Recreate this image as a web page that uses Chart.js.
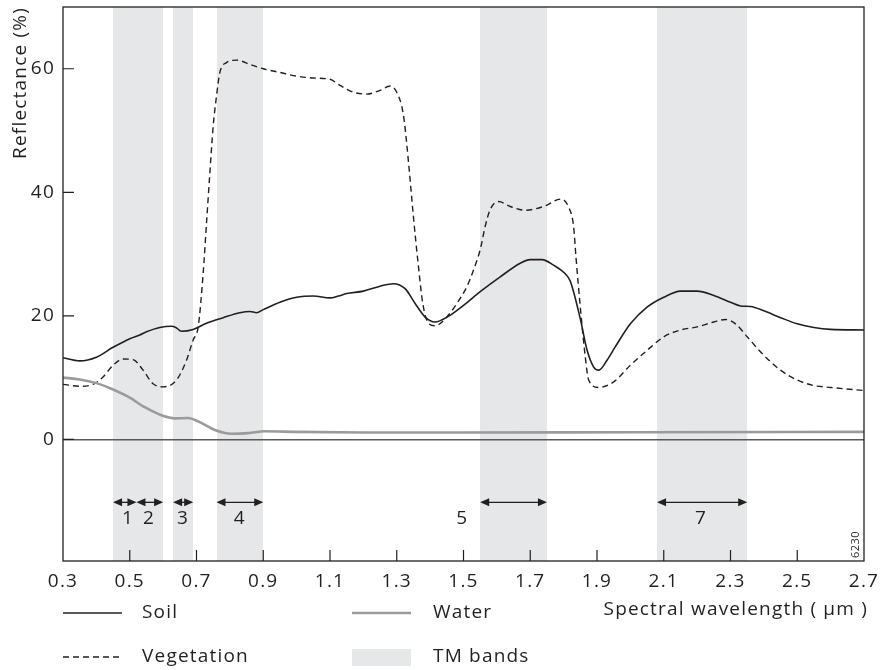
<!DOCTYPE html>
<html>
<head>
<meta charset="utf-8">
<script src="https://cdn.jsdelivr.net/npm/chart.js@4"></script>
<style>
  html, body { margin: 0; padding: 0; background: #ffffff; }
  #wrap { width: 880px; height: 670px; position: relative; }
</style>
</head>
<body>
<div id="wrap"><canvas id="c" width="880" height="670"></canvas></div>
<script>
// ---------- data ----------
const xTickValues = [0.3, 0.5, 0.7, 0.9, 1.1, 1.3, 1.5, 1.7, 1.9, 2.1, 2.3, 2.5, 2.7];
const xTickLabels = ['0.3', '0.5', '0.7', '0.9', '1.1', '1.3', '1.5', '1.7', '1.9', '2.1', '2.3', '2.5', '2.7'];
const yTickValues = [0, 20, 40, 60];
const yTickLabels = ['0', '20', '40', '60'];

const seriesNames = ['Soil', 'Vegetation', 'Water'];

const soilX = [0.30, 0.35, 0.40, 0.45, 0.50, 0.53, 0.55, 0.59, 0.625, 0.638, 0.655, 0.69, 0.73, 0.78, 0.83,
  0.86, 0.88, 0.90, 0.95, 1.00, 1.05, 1.10, 1.125, 1.15, 1.20, 1.25, 1.29, 1.325, 1.355, 1.385, 1.415,
  1.454, 1.50, 1.55, 1.61, 1.67, 1.70, 1.735, 1.77, 1.805, 1.82, 1.85, 1.87, 1.89, 1.905, 1.93, 1.955,
  2.00, 2.05, 2.10, 2.15, 2.20, 2.25, 2.30, 2.33, 2.36, 2.40, 2.45, 2.50, 2.55, 2.60, 2.70];
const soilY = [13.2, 12.7, 13.3, 14.9, 16.3, 16.9, 17.4, 18.1, 18.3, 18.1, 17.5, 17.8, 18.8, 19.7, 20.5,
  20.7, 20.5, 21.0, 22.2, 23.0, 23.2, 22.9, 23.2, 23.6, 24.0, 24.8, 25.2, 24.4, 22.0, 19.8, 19.0,
  19.9, 21.7, 23.9, 26.3, 28.5, 29.1, 29.1, 28.2, 26.8, 25.6, 19.5, 14.5, 11.7, 11.2, 12.8, 15.0,
  18.7, 21.4, 23.0, 24.0, 24.0, 23.3, 22.2, 21.6, 21.5, 20.8, 19.7, 18.7, 18.1, 17.8, 17.7];

const vegX = [0.30, 0.35, 0.39, 0.42, 0.45, 0.48, 0.51, 0.54, 0.57, 0.60, 0.64, 0.67, 0.69, 0.705,
  0.72, 0.73, 0.74, 0.75, 0.76, 0.77, 0.79, 0.82, 0.86, 0.90, 0.95, 1.00, 1.05, 1.10, 1.13, 1.17, 1.21,
  1.25, 1.28, 1.30, 1.32, 1.335, 1.35, 1.365, 1.378, 1.395, 1.415, 1.45, 1.48, 1.51, 1.53, 1.55, 1.565,
  1.58, 1.605, 1.64, 1.685, 1.745, 1.79, 1.815, 1.83, 1.837, 1.85, 1.865, 1.875, 1.905, 1.95, 2.00,
  2.05, 2.10, 2.15, 2.20, 2.25, 2.285, 2.315, 2.35, 2.40, 2.45, 2.50, 2.55, 2.60, 2.70];
const vegY = [8.9, 8.6, 8.9, 10.1, 12.0, 13.0, 12.9, 11.2, 9.0, 8.5, 9.6, 12.8, 16.1, 18.2,
  26.9, 35.0, 43.1, 50.7, 55.6, 59.4, 61.0, 61.4, 60.7, 60.0, 59.4, 58.8, 58.5, 58.3, 57.3, 56.2, 55.9,
  56.5, 57.2, 56.2, 52.5, 45.0, 36.0, 28.0, 22.0, 18.8, 18.4, 19.8, 22.0, 24.7, 27.4, 30.7, 34.5,
  37.2, 38.5, 37.7, 37.1, 37.8, 38.9, 37.6, 34.4, 29.5, 21.4, 13.3, 9.6, 8.4, 9.3, 12.0,
  14.4, 16.6, 17.7, 18.2, 19.0, 19.4, 18.7, 16.6, 13.6, 11.2, 9.6, 8.7, 8.4, 7.9];

const waterX = [0.30, 0.35, 0.40, 0.445, 0.495, 0.545, 0.595, 0.635, 0.675, 0.705, 0.755, 0.805, 0.855,
  0.905, 1.00, 1.20, 1.50, 2.00, 2.70];
const waterY = [10.0, 9.7, 9.1, 8.2, 6.9, 5.2, 3.9, 3.4, 3.45, 2.9, 1.5, 0.9, 1.0,
  1.3, 1.2, 1.1, 1.1, 1.15, 1.2];

// TM bands
const bandStart = [0.45, 0.52, 0.63, 0.76, 1.55, 2.08];
const bandEnd   = [0.52, 0.60, 0.69, 0.90, 1.75, 2.35];
const bandNames = ['1', '2', '3', '4', '5', '7'];
const bandLabelX = [0.495, 0.558, 0.66, 0.83, 1.496, 2.212];
const arrowLevel = -10.2;
const bandLabelLevel = -12.8;

// ---------- styles ----------
const INK = '#231f20';
const BAND_FILL = '#e6e7e8';
const WATER = '#9b9b9b';
const FONT = '"Open Sans", "Noto Sans", sans-serif';
const FS = 19;
const SPACING = '1.2px';

const toPts = (xs, ys) => xs.map((x, i) => ({ x: x, y: ys[i] }));

const overlay = {
  id: 'overlay',
  beforeDraw(chart) {
    const { ctx, chartArea: a, scales: { x } } = chart;
    ctx.letterSpacing = SPACING;
    ctx.save();
    ctx.fillStyle = BAND_FILL;
    for (let i = 0; i < bandStart.length; i++) {
      const x0 = Math.round(x.getPixelForValue(bandStart[i]));
      const x1 = Math.round(x.getPixelForValue(bandEnd[i]));
      ctx.fillRect(x0, a.top, x1 - x0, a.bottom - a.top);
    }
    ctx.restore();
  },
  afterDraw(chart) {
    const { ctx, chartArea: a, scales: { x, y } } = chart;
    ctx.save();
    ctx.letterSpacing = SPACING;
    // frame
    ctx.strokeStyle = INK;
    ctx.lineWidth = 1.3;
    ctx.strokeRect(a.left, a.top, a.right - a.left, a.bottom - a.top);
    // inward ticks
    ctx.lineWidth = 1.2;
    ctx.beginPath();
    xTickValues.forEach(v => {
      if (v <= x.min || v >= x.max) return;
      const px = x.getPixelForValue(v);
      ctx.moveTo(px, a.bottom); ctx.lineTo(px, a.bottom - 11);
    });
    yTickValues.forEach(v => {
      const py = y.getPixelForValue(v);
      ctx.moveTo(a.left, py); ctx.lineTo(a.left + 11, py);
    });
    ctx.stroke();

    // band arrows
    const ay = y.getPixelForValue(arrowLevel);
    ctx.fillStyle = INK;
    ctx.lineWidth = 1.3;
    const hl = 9, hh = 4;
    for (let i = 0; i < bandStart.length; i++) {
      const x0 = x.getPixelForValue(bandStart[i]);
      const x1 = x.getPixelForValue(bandEnd[i]);
      ctx.beginPath(); ctx.moveTo(x0 + 2, ay); ctx.lineTo(x1 - 2, ay); ctx.stroke();
      ctx.beginPath(); ctx.moveTo(x0, ay); ctx.lineTo(x0 + hl, ay - hh); ctx.lineTo(x0 + hl, ay + hh); ctx.closePath(); ctx.fill();
      ctx.beginPath(); ctx.moveTo(x1, ay); ctx.lineTo(x1 - hl, ay - hh); ctx.lineTo(x1 - hl, ay + hh); ctx.closePath(); ctx.fill();
    }
    // band labels
    ctx.font = FS + 'px ' + FONT;
    ctx.textAlign = 'center';
    ctx.textBaseline = 'middle';
    const ly = y.getPixelForValue(bandLabelLevel);
    bandNames.forEach((n, i) => ctx.fillText(n, x.getPixelForValue(bandLabelX[i]), ly));

    // y axis title
    ctx.save();
    ctx.translate(21, a.top);
    ctx.rotate(-Math.PI / 2);
    ctx.textAlign = 'right';
    ctx.textBaseline = 'middle';
    ctx.fillText('Reflectance (%)', 0, 0);
    ctx.restore();

    // x axis title
    ctx.textAlign = 'right';
    ctx.textBaseline = 'middle';
    ctx.fillText('Spectral wavelength ( \u03bcm )', a.right + 4, 610);

    // figure id
    ctx.save();
    ctx.font = '11px ' + FONT;
    ctx.letterSpacing = '0.5px';
    ctx.translate(a.right - 8, a.bottom - 3);
    ctx.rotate(-Math.PI / 2);
    ctx.textAlign = 'left';
    ctx.textBaseline = 'middle';
    ctx.fillText('6230', 0, 0);
    ctx.restore();

    // legend
    const r1 = 613, r2 = 657;
    const lx0 = a.left, lx1 = a.left + 59, tx1 = a.left + 79;
    const mx0 = 352, mx1 = 411, tx2 = 433;
    ctx.textAlign = 'left';
    ctx.textBaseline = 'middle';
    // soil
    ctx.strokeStyle = INK; ctx.lineWidth = 1.6; ctx.setLineDash([]);
    ctx.beginPath(); ctx.moveTo(lx0, r1); ctx.lineTo(lx1, r1); ctx.stroke();
    ctx.fillText(seriesNames[0], tx1, r1);
    // water
    ctx.strokeStyle = WATER; ctx.lineWidth = 2.6;
    ctx.beginPath(); ctx.moveTo(mx0, r1); ctx.lineTo(mx1, r1); ctx.stroke();
    ctx.fillText(seriesNames[2], tx2, r1);
    // vegetation
    ctx.strokeStyle = INK; ctx.lineWidth = 1.4; ctx.setLineDash([6, 4]);
    ctx.beginPath(); ctx.moveTo(lx0, r2); ctx.lineTo(lx1, r2); ctx.stroke();
    ctx.setLineDash([]);
    ctx.fillText(seriesNames[1], tx1, r2);
    // TM bands
    ctx.fillStyle = BAND_FILL;
    ctx.fillRect(mx0, r2 - 8, mx1 - mx0, 17);
    ctx.fillStyle = INK;
    ctx.fillText('TM bands', tx2, r2);
    ctx.restore();
  }
};

new Chart(document.getElementById('c'), {
  type: 'line',
  data: {
    datasets: [
      { label: seriesNames[2], data: toPts(waterX, waterY), borderColor: WATER, borderWidth: 2.6,
        pointRadius: 0, cubicInterpolationMode: 'monotone', fill: false },
      { label: seriesNames[0], data: toPts(soilX, soilY), borderColor: INK, borderWidth: 1.6,
        pointRadius: 0, cubicInterpolationMode: 'monotone', fill: false },
      { label: seriesNames[1], data: toPts(vegX, vegY), borderColor: INK, borderWidth: 1.4,
        borderDash: [6, 4], pointRadius: 0, cubicInterpolationMode: 'monotone', fill: false }
    ]
  },
  options: {
    responsive: false,
    animation: false,
    events: [],
    layout: { padding: { top: 7, right: 16, left: 0, bottom: 0 } },
    plugins: { legend: { display: false }, tooltip: { enabled: false } },
    scales: {
      x: {
        type: 'linear',
        min: 0.3, max: 2.7,
        afterBuildTicks: s => { s.ticks = xTickValues.map(v => ({ value: v })); },
        afterFit: s => { s.height = 109; s.paddingLeft = 0; s.paddingRight = 0; },
        grid: { display: false },
        border: { display: false },
        ticks: {
          autoSkip: false, maxRotation: 0, padding: 1,
          color: INK, font: { family: FONT, size: FS },
          callback: (v, i) => xTickLabels[i]
        }
      },
      y: {
        type: 'linear',
        min: -19.7, max: 70,
        afterBuildTicks: s => { s.ticks = yTickValues.map(v => ({ value: v })); },
        afterFit: s => { s.width = 63; s.paddingTop = 0; s.paddingBottom = 0; },
        border: { display: false },
        grid: {
          drawTicks: false,
          lineWidth: 1.5,
          color: c => (c.tick && c.tick.value === 0 ? '#58595b' : 'rgba(0,0,0,0)')
        },
        ticks: {
          padding: 8, color: INK, font: { family: FONT, size: FS },
          callback: (v, i) => yTickLabels[i]
        }
      }
    }
  },
  plugins: [overlay]
});
</script>
</body>
</html>
